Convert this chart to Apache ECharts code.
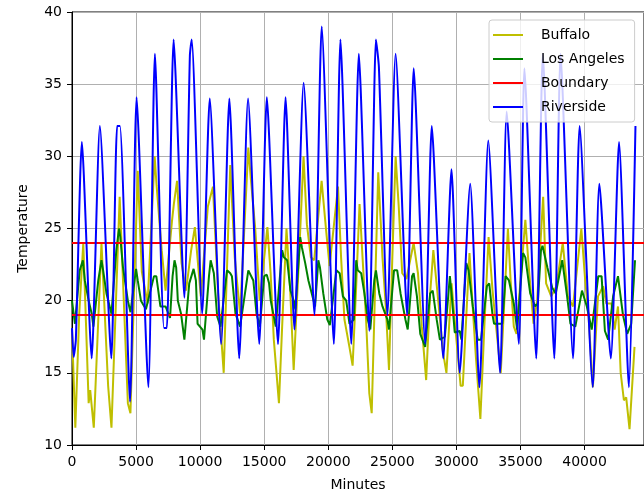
<!DOCTYPE html>
<html>
<head>
<meta charset="utf-8">
<script src="https://cdn.jsdelivr.net/npm/echarts@6/dist/echarts.min.js"></script>
<style>
  html, body { margin: 0; padding: 0; background: #fff; }
  #chart { width: 644px; height: 498px; }
</style>
</head>
<body>
<div id="chart"></div>
<script>
// [minute, temperature]
const buffalo = [
  [0, 18.0], [260, 11.2], [560, 19.0], [880, 24.0], [1300, 12.9], [1420, 13.8], [1700, 11.2],
  [2300, 24.0], [2820, 14.1], [3080, 11.2], [3720, 27.2], [4360, 12.9], [4560, 12.2],
  [5130, 29.0], [5450, 22.0], [5900, 19.8], [6450, 30.0], [6600, 28.0], [7000, 23.5], [7300, 20.7],
  [7800, 25.5], [7950, 26.7], [8200, 28.3], [8550, 22.6], [8900, 20.7], [9300, 23.5], [9590, 25.1],
  [10050, 20.3], [10600, 26.5], [11000, 27.9], [11400, 20.5], [11700, 16.8], [11840, 15.0],
  [12350, 29.4], [12700, 23.0], [13120, 19.1], [13760, 30.6], [13950, 28.5], [14300, 25.0],
  [14650, 20.0], [15250, 25.1], [15500, 21.9], [15750, 17.3], [16150, 12.9], [16400, 18.2],
  [16740, 25.0], [17030, 20.7], [17300, 15.2], [17660, 21.9], [18070, 30.0], [18330, 25.3],
  [18640, 23.0], [18900, 22.8], [19480, 28.3], [19850, 24.7], [20100, 22.4], [20760, 27.9],
  [21000, 23.0], [21260, 18.7], [21650, 16.8], [21900, 15.5], [22180, 21.0], [22440, 26.7],
  [22700, 22.6], [22950, 18.7], [23200, 13.6], [23390, 12.2], [23600, 19.1], [23900, 28.9],
  [24230, 23.0], [24490, 19.6], [24740, 15.2], [25000, 23.0], [25256, 30.0], [25500, 26.5],
  [25770, 21.9], [26100, 21.5], [26660, 24.0], [27000, 21.9], [27300, 18.2], [27640, 14.5],
  [27950, 20.5], [28200, 23.5], [28580, 20.0], [28960, 16.4], [29220, 15.0], [29620, 21.2],
  [30000, 17.3], [30330, 14.1], [30500, 14.1], [31020, 23.3], [31270, 19.6], [31520, 16.1],
  [31870, 11.8], [32180, 18.2], [32510, 24.4], [32820, 20.7], [33200, 17.3], [33460, 15.0],
  [33720, 19.6], [34020, 25.0], [34230, 21.4], [34480, 18.2], [34690, 17.7], [35000, 21.4],
  [35380, 25.6], [35640, 22.4], [36020, 18.4], [36300, 20.0], [36770, 27.2], [37000, 21.2],
  [37400, 20.3], [37800, 21.0], [38300, 24.0], [38700, 20.3], [39100, 19.6], [39750, 25.0],
  [40050, 21.4], [40300, 19.1], [40650, 14.0], [41050, 20.3], [41450, 21.0], [41700, 19.8],
  [42100, 19.8], [42350, 18.0], [42610, 19.6], [42820, 15.0], [43070, 13.1], [43250, 13.3],
  [43510, 11.1], [43900, 16.8]
];

const losAngeles = [
  [0, 20.0], [230, 18.4], [600, 22.1], [850, 22.8], [1000, 21.4], [1300, 20.0], [1540, 19.1],
  [1670, 18.2], [2050, 21.4], [2300, 22.8], [2430, 22.1], [2690, 20.5], [3080, 19.1], [3460, 23.5],
  [3670, 25.0], [3770, 24.4], [3980, 22.3], [4360, 20.0], [4565, 19.2], [5000, 22.2], [5130, 21.4],
  [5380, 20.0], [5770, 19.4], [6400, 21.7], [6580, 21.7], [6900, 19.6], [7300, 19.6], [7650, 18.8],
  [7850, 21.7], [8000, 22.8], [8130, 22.3], [8260, 20.0], [8510, 19.1], [8770, 17.3], [9150, 21.2],
  [9490, 22.2], [9670, 21.4], [9800, 18.4], [10180, 18.0], [10300, 17.3], [10690, 21.7],
  [10820, 22.8], [11070, 21.9], [11330, 18.9], [11590, 18.2], [12100, 22.1], [12350, 21.9],
  [12480, 21.7], [12760, 19.1], [13120, 18.2], [13760, 22.1], [14150, 21.4], [14400, 19.1],
  [14660, 18.2], [15000, 21.7], [15200, 21.8], [15380, 21.2], [15510, 20.0], [15900, 18.2],
  [16024, 18.2], [16400, 23.5], [16536, 23.0], [16790, 22.8], [17050, 20.7], [17300, 20.0],
  [17430, 19.4], [17810, 24.4], [17940, 23.7], [18200, 22.6], [18450, 21.4], [18710, 20.5],
  [18970, 19.6], [19224, 22.8], [19350, 22.3], [19610, 20.5], [19920, 18.7], [20120, 18.3],
  [20632, 22.1], [20890, 21.9], [21140, 20.3], [21400, 20.0], [21656, 18.4], [22000, 18.7],
  [22180, 22.8], [22300, 22.1], [22570, 21.9], [22820, 20.5], [23080, 18.7], [23280, 18.0],
  [23590, 21.4], [23720, 22.1], [23980, 20.5], [24230, 19.6], [24610, 18.7], [24740, 18.0],
  [25130, 22.1], [25380, 22.1], [25640, 20.5], [26020, 18.7], [26200, 18.0], [26540, 21.7],
  [26660, 21.9], [26920, 20.3], [27180, 17.7], [27560, 16.8], [27950, 20.5], [28150, 20.7],
  [28460, 18.7], [28710, 17.3], [29100, 17.5], [29490, 21.7], [29620, 20.5], [29870, 17.8],
  [30260, 17.9], [30390, 17.3], [30770, 22.6], [30950, 22.1], [31280, 19.6], [31660, 17.3],
  [31920, 17.3], [32380, 21.0], [32560, 21.2], [32820, 19.0], [32940, 18.4], [33580, 18.4],
  [33840, 21.7], [34100, 21.4], [34480, 19.8], [34740, 18.0], [35200, 23.3], [35380, 23.0],
  [35760, 20.5], [36140, 19.6], [36350, 19.8], [36600, 23.5], [36720, 23.8], [37100, 22.3],
  [37480, 20.9], [37750, 20.5], [38260, 22.8], [38640, 20.3], [38900, 18.4], [39280, 18.2],
  [39800, 20.7], [40180, 19.6], [40560, 18.0], [41070, 21.7], [41330, 21.7], [41590, 17.9],
  [41840, 17.3], [42230, 20.3], [42610, 21.7], [43000, 19.0], [43330, 17.7], [43640, 18.4],
  [43940, 22.8]
];

const riverside = [
  [0, 18.1], [130, 16.1], [300, 17.3], [770, 31.0], [1535, 16.0], [2175, 32.1], [3070, 16.0],
  [3520, 32.1], [3740, 32.1], [4530, 13.0], [5040, 34.1], [5960, 14.0], [6470, 37.1], [7180, 18.1],
  [7400, 18.1], [7930, 38.1], [8770, 20.2], [9200, 37.0], [9340, 38.1], [10160, 19.1], [10750, 34.0],
  [11640, 17.0], [12280, 34.0], [13050, 16.0], [13740, 34.0], [14615, 17.0], [15205, 34.1],
  [16077, 17.0], [16667, 34.1], [17360, 18.0], [18077, 35.1], [18923, 19.0], [19487, 39.0],
  [20436, 17.0], [20949, 38.1], [21795, 17.0], [22385, 37.1], [23205, 17.9], [23718, 38.1],
  [23950, 36.2], [24615, 19.0], [25256, 37.1], [26154, 19.0], [26667, 36.1], [27564, 17.0],
  [28077, 32.1], [28974, 16.0], [29615, 29.1], [30256, 15.0], [31077, 28.1], [31795, 14.0],
  [32487, 31.1], [33410, 15.0], [33923, 33.1], [34872, 17.0], [35308, 36.1], [36231, 16.0],
  [36744, 37.1], [37641, 16.0], [38128, 37.1], [39103, 16.0], [39615, 32.1], [40641, 14.0],
  [41154, 28.1], [42051, 16.0], [42692, 31.0], [43462, 14.0], [43974, 32.1]
];

const boundaryLow = 19;
const boundaryHigh = 24;
const minutesRange = [0, 44640];
const names = ['Buffalo', 'Los Angeles', 'Boundary', 'Riverside'];

const font = 'DejaVu Sans';
const chart = echarts.init(document.getElementById('chart'), null, { renderer: 'canvas' });

function lineSeries(name, data, color, extra) {
  return Object.assign({
    name: name,
    type: 'line',
    data: data,
    showSymbol: false,
    symbol: 'none',
    lineStyle: { color: color, width: 2 },
    itemStyle: { color: color },
    emphasis: { disabled: true },
  }, extra || {});
}

chart.setOption({
  animation: false,
  backgroundColor: '#fff',
  textStyle: { fontFamily: font },
  grid: {
    left: 72,
    top: 12,
    right: -9,
    bottom: 53,
    show: true,
    borderColor: '#000',
    borderWidth: 1,
  },
  legend: {
    left: 489,
    top: 20,
    orient: 'vertical',
    data: names,
    icon: 'rect',
    itemWidth: 30,
    itemHeight: 2,
    itemGap: 8,
    padding: [7, 10, 7, 4],
    backgroundColor: 'rgba(255,255,255,0.8)',
    borderColor: '#cccccc',
    borderWidth: 1,
    borderRadius: 3,
    textStyle: { fontFamily: font, fontSize: 14, color: '#000', lineHeight: 16, padding: [0, 0, 0, 13] },
  },
  xAxis: {
    type: 'value',
    min: minutesRange[0],
    max: minutesRange[1],
    interval: 5000,
    name: 'Minutes',
    nameLocation: 'middle',
    nameGap: 33,
    nameTextStyle: { fontFamily: font, fontSize: 14, color: '#000' },
    axisLine: { onZero: false, lineStyle: { color: '#000', width: 1 } },
    axisTick: { show: true, length: 5, lineStyle: { color: '#000' } },
    axisLabel: {
      fontFamily: font, fontSize: 14, color: '#000', margin: 10, showMaxLabel: false,
      formatter: (v) => String(v),
    },
    splitLine: { show: true, lineStyle: { color: '#b0b0b0', width: 1 } },
  },
  yAxis: {
    type: 'value',
    min: 10,
    max: 40,
    interval: 5,
    name: 'Temperature',
    nameLocation: 'middle',
    nameGap: 42,
    nameTextStyle: { fontFamily: font, fontSize: 14, color: '#000' },
    axisLine: { show: true, lineStyle: { color: '#000', width: 1 } },
    axisTick: { show: true, length: 5, lineStyle: { color: '#000' } },
    axisLabel: { fontFamily: font, fontSize: 14, color: '#000', margin: 10 },
    splitLine: { show: true, lineStyle: { color: '#b0b0b0', width: 1 } },
  },
  series: [
    lineSeries('Buffalo', buffalo, '#bfbf00'),
    lineSeries('Los Angeles', losAngeles, '#008000'),
    lineSeries('Boundary', [[minutesRange[0], boundaryHigh], [minutesRange[1], boundaryHigh]], '#ff0000'),
    lineSeries('Boundary', [[minutesRange[0], boundaryLow], [minutesRange[1], boundaryLow]], '#ff0000'),
    lineSeries('Riverside', riverside, '#0000ff', { smooth: 0.2 }),
  ],
});
</script>
</body>
</html>
